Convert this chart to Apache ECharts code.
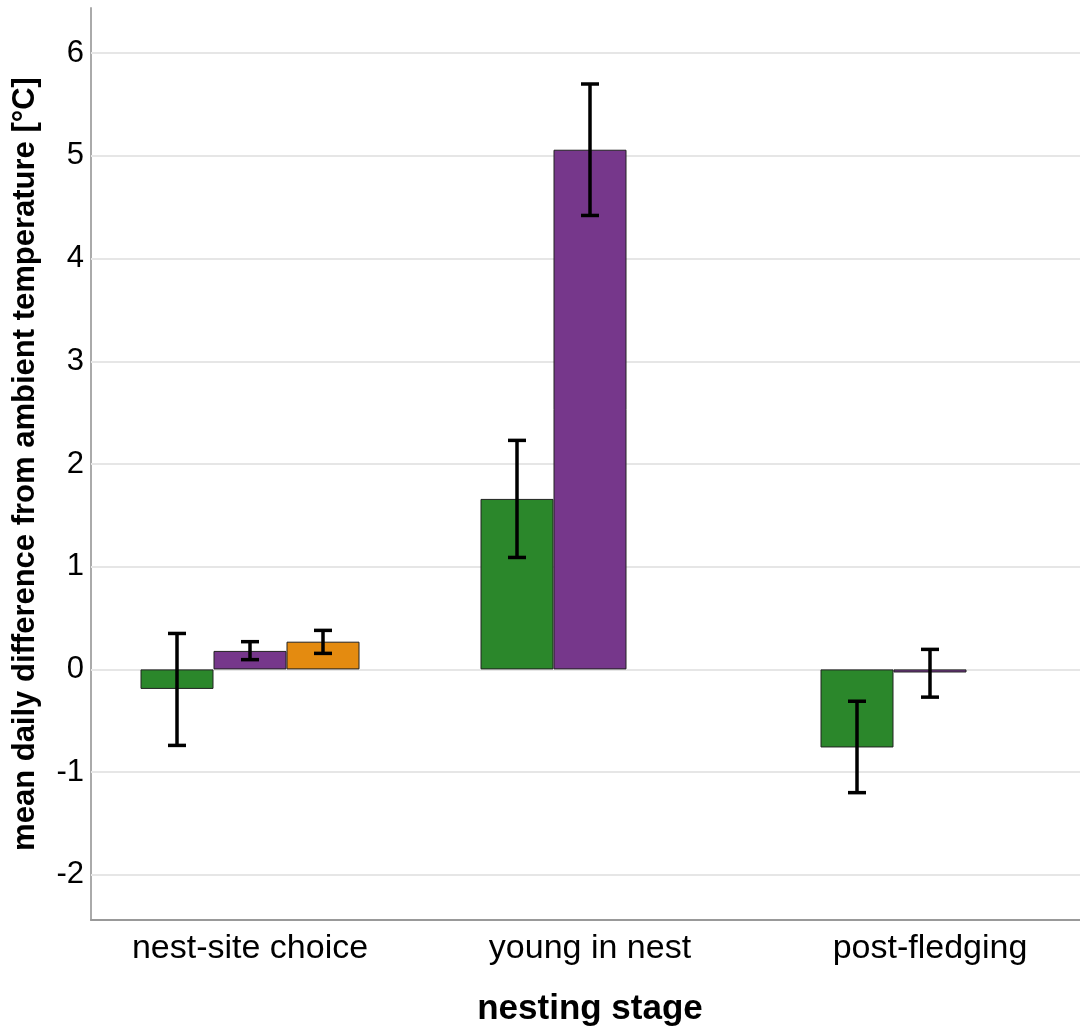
<!DOCTYPE html>
<html>
<head>
<meta charset="utf-8">
<script src="https://cdn.jsdelivr.net/npm/echarts@6/dist/echarts.min.js"></script>
<style>html,body{margin:0;padding:0;background:#fff;}#chart{width:1080px;height:1030px;}</style>
</head>
<body>
<div id="chart"></div>
<script>
const categories = ['nest-site choice', 'young in nest', 'post-fledging'];
const seriesNames = ['green', 'purple', 'orange'];
const greenMean = [-0.19, 1.66, -0.76];
const purpleMean = [0.18, 5.06, -0.03];
const orangeMean = [0.27, null, null];
const greenLow = [-0.74, 1.09, -1.20];
const greenHigh = [0.35, 2.23, -0.31];
const purpleLow = [0.095, 4.42, -0.27];
const purpleHigh = [0.27, 5.70, 0.195];
const orangeLow = [0.156, null, null];
const orangeHigh = [0.38, null, null];
const yTicks = [-2, -1, 0, 1, 2, 3, 4, 5, 6];

const colors = ['#2b872b', '#76378b', '#e48b10'];
const means = [greenMean, purpleMean, orangeMean];
const lows = [greenLow, purpleLow, orangeLow];
const highs = [greenHigh, purpleHigh, orangeHigh];
const BAR_W = 73;
const Y_MIN = -2.44, Y_MAX = 6.44;
const FONT = 'Liberation Sans, Arial, sans-serif';

const chart = echarts.init(document.getElementById('chart'));

const barSeries = means.map((m, i) => ({
  type: 'bar',
  name: seriesNames[i],
  xAxisIndex: 1,
  yAxisIndex: 1,
  barWidth: BAR_W,
  barGap: '0%',
  data: m.map(v => v === null ? '-' : v),
  itemStyle: { color: colors[i], borderColor: '#222', borderWidth: 1 },
  z: 3
}));

const errSeries = lows.map((lo, i) => ({
  type: 'custom',
  xAxisIndex: 1,
  yAxisIndex: 1,
  z: 5,
  data: lo.map((l, k) => l === null ? null : [k, l, highs[i][k]]).filter(d => d),
  renderItem: function (params, api) {
    const off = (i - 1) * BAR_W;
    const p1 = api.coord([api.value(0), api.value(1)]);
    const p2 = api.coord([api.value(0), api.value(2)]);
    const x = p1[0] + off;
    const cw = 9;
    const st = { stroke: '#000', lineWidth: 3.5 };
    return {
      type: 'group',
      children: [
        { type: 'line', shape: { x1: x, y1: p1[1], x2: x, y2: p2[1] }, style: st },
        { type: 'line', shape: { x1: x - cw, y1: p1[1], x2: x + cw, y2: p1[1] }, style: st },
        { type: 'line', shape: { x1: x - cw, y1: p2[1], x2: x + cw, y2: p2[1] }, style: st }
      ]
    };
  }
}));

const option = {
  animation: false,
  backgroundColor: '#fff',
  grid: [
    { left: 91, right: 0, top: 8, bottom: 110, outerBoundsMode: 'none', containLabel: false },
    { left: 80, width: 1020, top: 8, bottom: 110, outerBoundsMode: 'none', containLabel: false }
  ],
  xAxis: [
    {
      type: 'value', gridIndex: 0, min: 0, max: 1,
      axisLine: { show: true, onZero: false, lineStyle: { color: '#999', width: 2 } },
      axisTick: { show: false }, axisLabel: { show: false }, splitLine: { show: false }
    },
    {
      type: 'category', gridIndex: 1, data: categories,
      axisLine: { show: false }, axisTick: { show: false },
      axisLabel: { fontSize: 34, color: '#000', fontFamily: FONT, margin: 12 },
      name: 'nesting stage', nameLocation: 'middle', nameGap: 72,
      nameTextStyle: { fontSize: 35, fontWeight: 'bold', color: '#000', fontFamily: FONT }
    }
  ],
  yAxis: [
    {
      type: 'value', gridIndex: 0, min: Y_MIN, max: Y_MAX,
      axisLine: { show: true, lineStyle: { color: '#aaa', width: 2 } },
      axisTick: { show: false },
      splitLine: { show: false },
      axisLabel: { customValues: yTicks, fontSize: 31, color: '#000', fontFamily: FONT, margin: 7, padding: [6, 0, 0, 0] },
      name: 'mean daily difference from ambient temperature [°C]',
      nameLocation: 'middle', nameGap: 50,
      nameTextStyle: { fontSize: 31, fontWeight: 'bold', color: '#000', fontFamily: FONT }
    },
    {
      type: 'value', gridIndex: 1, min: Y_MIN, max: Y_MAX, show: false,
      splitLine: { show: false }
    }
  ],
  series: [
    {
      type: 'line', xAxisIndex: 0, yAxisIndex: 0, data: [], z: 1,
      markLine: {
        z: 1,
        silent: true, symbol: ['none', 'none'], label: { show: false },
        lineStyle: { color: '#e6e6e6', width: 2, type: 'solid' },
        data: yTicks.map(v => ({ yAxis: v }))
      }
    },
    ...barSeries,
    ...errSeries
  ]
};
chart.setOption(option);
</script>
</body>
</html>
